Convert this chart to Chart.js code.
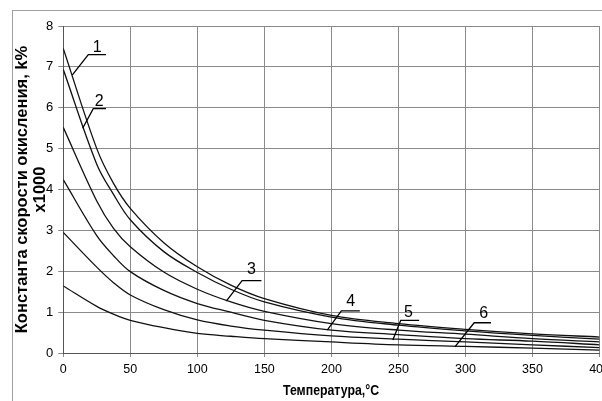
<!DOCTYPE html>
<html>
<head>
<meta charset="utf-8">
<script src="https://cdn.jsdelivr.net/npm/chart.js@4/dist/chart.umd.min.js"></script>
<style>
    html, body { margin: 0; padding: 0; background: #fff; overflow: hidden; }
    #wrap { width: 602px; height: 401px; overflow: hidden; }
</style>
</head>
<body>
<div id="wrap"><canvas id="chart" width="615" height="401"></canvas></div>
<script>
// данные - температура и константы скорости окисления
const temps  = [0, 25, 37.5, 50, 75, 100, 125, 150, 200, 250, 300, 350, 400];
const curve1 = [7.45, 5.00, 4.15, 3.54, 2.70, 2.11, 1.66, 1.33, 0.92, 0.72, 0.58, 0.47, 0.39];
const curve2 = [6.94, 4.62, 3.88, 3.26, 2.48, 1.97, 1.56, 1.25, 0.88, 0.68, 0.54, 0.43, 0.34];
const curve3 = [5.52, 3.72, 3.05, 2.60, 1.98, 1.56, 1.25, 1.02, 0.72, 0.56, 0.46, 0.35, 0.27];
const curve4 = [4.24, 2.87, 2.38, 1.99, 1.53, 1.21, 1.00, 0.80, 0.56, 0.45, 0.35, 0.29, 0.20];
const curve5 = [2.95, 2.10, 1.72, 1.42, 1.06, 0.81, 0.66, 0.56, 0.42, 0.34, 0.27, 0.20, 0.13];
const curve6 = [1.64, 1.14, 0.95, 0.80, 0.62, 0.48, 0.41, 0.35, 0.27, 0.20, 0.16, 0.12, 0.07];
const curveNames = ['1', '2', '3', '4', '5', '6'];
const yTicks = [0, 1, 2, 3, 4, 5, 6, 7, 8];
const xTicks = [0, 50, 100, 150, 200, 250, 300, 350, 400];
const yTitle = ['Константа скорости окисления, k%', 'x1000'];
const xTitle = 'Температура,°C';

// подписи кривых: текст, полка и выноска (в единицах осей)
const callouts = [
    { text: '1', tx: 25.4, ty: 7.47, sx1: 18.7, sx2: 31.9, sy: 7.30, ex: 6.7, ey: 6.80 },
    { text: '2', tx: 26.9, ty: 6.16, sx1: 22.4, sx2: 31.9, sy: 5.98, ex: 14.5, ey: 5.50 },
    { text: '3', tx: 140.3, ty: 2.03, sx1: 133.4, sx2: 147.8, sy: 1.77, ex: 121.6, ey: 1.27 },
    { text: '4', tx: 214.4, ty: 1.25, sx1: 207.4, sx2: 221.2, sy: 1.03, ex: 196.9, ey: 0.56 },
    { text: '5', tx: 257.5, ty: 1.00, sx1: 251.7, sx2: 265.4, sy: 0.80, ex: 245.8, ey: 0.32 },
    { text: '6', tx: 313.6, ty: 0.96, sx1: 306.5, sx2: 319.0, sy: 0.74, ex: 292.1, ey: 0.15 }
];

const SANS = '"Liberation Sans", Arial, sans-serif';

const toPoints = (values) => values.map((v, i) => ({ x: temps[i], y: v }));

// рамка и подписи осей
const frame = {
    id: 'frame',
    beforeDraw(chart) {
        const ctx = chart.ctx;
        ctx.save();
        ctx.fillStyle = '#fff';
        ctx.fillRect(0, 0, chart.width, chart.height);
        ctx.strokeStyle = '#a0a0a0';
        ctx.lineWidth = 1;
        ctx.strokeRect(12.5, 10.5, 800, 600);
        ctx.restore();
    },
    afterDraw(chart) {
        const ctx = chart.ctx;
        const area = chart.chartArea;
        const midY = (area.top + area.bottom) / 2;
        ctx.save();
        ctx.fillStyle = '#000';
        ctx.textAlign = 'center';
        ctx.textBaseline = 'middle';
        ctx.font = 'bold 16.5px ' + SANS;
        ctx.translate(22, midY);
        ctx.rotate(-Math.PI / 2);
        ctx.fillText(yTitle[0], 0, 0);
        ctx.fillText(yTitle[1], 0, 18);
        ctx.restore();

        // узкое начертание - сжимаем по горизонтали
        ctx.save();
        ctx.fillStyle = '#000';
        ctx.textAlign = 'center';
        ctx.textBaseline = 'middle';
        ctx.font = 'bold 14.5px ' + SANS;
        ctx.translate(331, 391);
        ctx.scale(0.85, 1);
        ctx.fillText(xTitle, 0, 0);
        ctx.restore();
    }
};

const calloutPlugin = {
    id: 'callouts',
    afterDatasetsDraw(chart) {
        const ctx = chart.ctx;
        const xs = chart.scales.x, ys = chart.scales.y;
        ctx.save();
        ctx.strokeStyle = '#000';
        ctx.fillStyle = '#000';
        ctx.lineWidth = 1.3;
        ctx.font = '16px ' + SANS;
        ctx.textAlign = 'center';
        ctx.textBaseline = 'middle';
        callouts.forEach(c => {
            const sy = ys.getPixelForValue(c.sy);
            ctx.beginPath();
            ctx.moveTo(xs.getPixelForValue(c.sx2), sy);
            ctx.lineTo(xs.getPixelForValue(c.sx1), sy);
            ctx.lineTo(xs.getPixelForValue(c.ex), ys.getPixelForValue(c.ey));
            ctx.stroke();
            ctx.fillText(c.text, xs.getPixelForValue(c.tx), ys.getPixelForValue(c.ty));
        });
        ctx.restore();
    }
};

const series = [curve1, curve2, curve3, curve4, curve5, curve6];

new Chart(document.getElementById('chart'), {
    type: 'line',
    data: {
        datasets: series.map((s, i) => ({
            label: curveNames[i],
            data: toPoints(s),
            borderColor: '#111',
            borderWidth: 1.3,
            pointRadius: 0,
            fill: false,
            tension: 0.35
        }))
    },
    options: {
        responsive: false,
        animation: false,
        layout: { padding: { left: 41, top: 26, right: 0, bottom: 19 } },
        plugins: { legend: { display: false }, tooltip: { enabled: false } },
        scales: {
            x: {
                type: 'linear',
                min: 0,
                max: 400,
                afterBuildTicks: (axis) => { axis.ticks = xTicks.map(v => ({ value: v })); },
                grid: { color: '#8a8a8a', lineWidth: 1, tickLength: 4 },
                border: { color: '#555' },
                ticks: { color: '#000', font: { family: SANS, size: 12.5 }, padding: 5, maxRotation: 0 }
            },
            y: {
                min: 0,
                max: 8,
                afterBuildTicks: (axis) => { axis.ticks = yTicks.map(v => ({ value: v })); },
                grid: { color: '#8a8a8a', lineWidth: 1, tickLength: 5 },
                border: { color: '#555' },
                ticks: { color: '#000', font: { family: SANS, size: 13 }, padding: 5 }
            }
        }
    },
    plugins: [frame, calloutPlugin]
});
</script>
</body>
</html>
